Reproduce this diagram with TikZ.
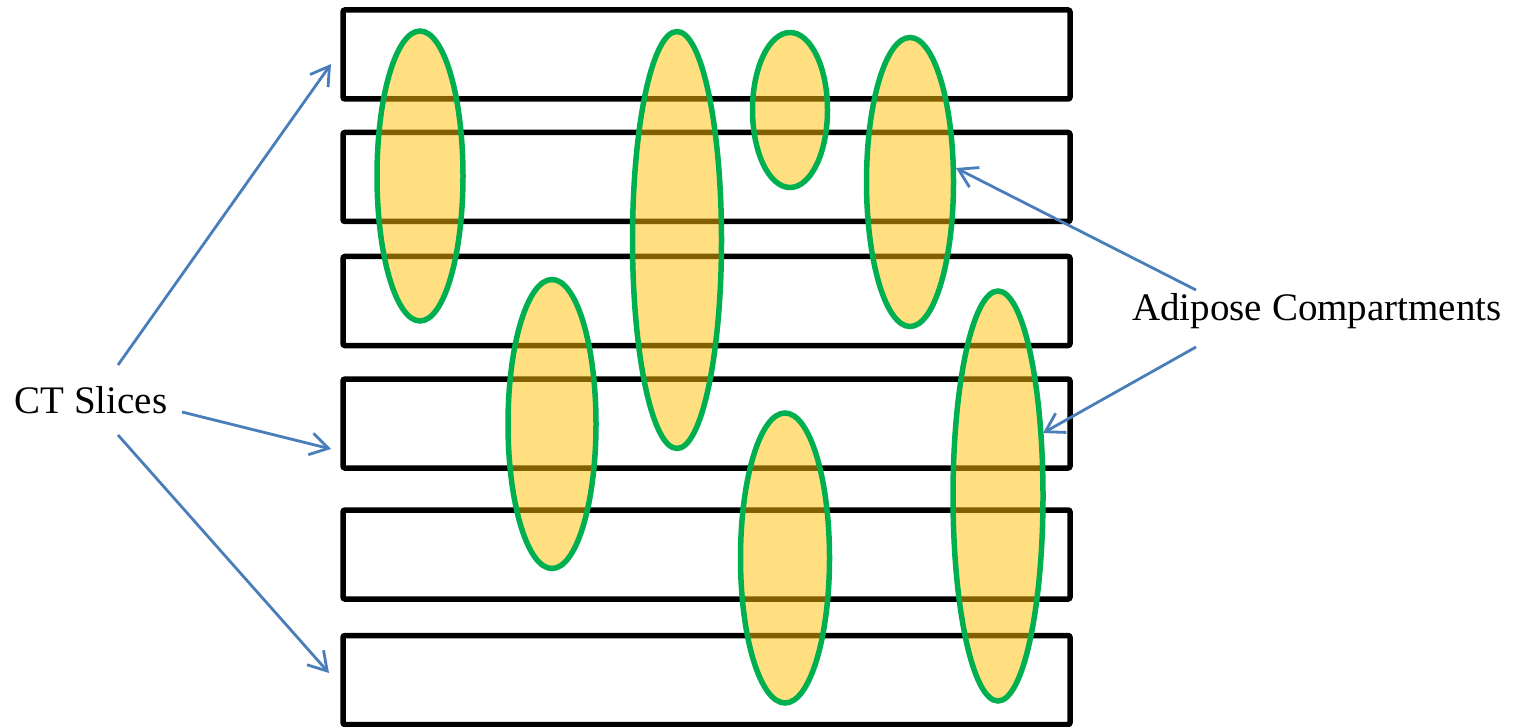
\documentclass[tikz,border=0pt]{standalone}
\usepackage{fontspec}
\setmainfont{Liberation Serif}
\usetikzlibrary{shapes.geometric,arrows.meta}
\definecolor{ptrBlue}{HTML}{4A7EBB}
\definecolor{fatGreen}{HTML}{00B050}
\definecolor{fatYellow}{HTML}{FFC000}

\begin{document}
\begin{tikzpicture}[x=0.5pt,y=-0.5pt,
    slice/.style={draw=black,line width=2.75pt,rounded corners=1pt,minimum width=363.5pt,minimum height=44.5pt,inner sep=0pt},
    fat/.style={ellipse,draw=fatGreen,line width=2.75pt,fill=fatYellow,fill opacity=0.5,draw opacity=1,inner sep=0pt},
    pointer/.style={draw=ptrBlue,line width=1.4pt,-{Straight Barb[length=9pt,width=11pt]}},
    note/.style={font=\fontsize{19.5}{23}\selectfont,anchor=base,inner sep=0pt}]
  \useasboundingbox (0,0) rectangle (1515,727);
  % CT slices
  \foreach \i/\y in {1/54.5,2/177,3/301,4/423.5,5/554.5,6/680}
    \node[slice] (slice\i) at (706.5,\y) {};
  % adipose compartments
  \foreach \j/\x/\y/\w/\h in {1/420/176/43/145,2/552/424/44/144.5,3/677/240/44.5/208.5,
      4/790/110/37.5/77.5,5/910/182/43.5/144.5,6/785/558/44.5/145,7/998/496/45/205}
    \node[fat,minimum width=\w pt,minimum height=\h pt] (fat\j) at (\x,\y) {};
  % labels
  \node[note] (ct) at (91,413) {CT Slices};
  \node[note] (adipose) at (1317,321) {Adipose Compartments};
  \coordinate (ctUp) at (118,365);
  \coordinate (ctMid) at (182,412);
  \coordinate (ctDown) at (118,435);
  \coordinate (hitTop) at (331,64);
  \coordinate (hitMid) at (331,449);
  \coordinate (hitBot) at (329,673);
  \coordinate (adUp) at (1196,290);
  \coordinate (adDown) at (1196,347);
  \coordinate (hitFat5) at (956,168);
  \coordinate (hitFat7) at (1043,433);
  \draw[pointer] (ctUp) -- (hitTop);
  \draw[pointer] (ctMid) -- (hitMid);
  \draw[pointer] (ctDown) -- (hitBot);
  \draw[pointer] (adUp) -- (hitFat5);
  \draw[pointer] (adDown) -- (hitFat7);
\end{tikzpicture}
\end{document}
